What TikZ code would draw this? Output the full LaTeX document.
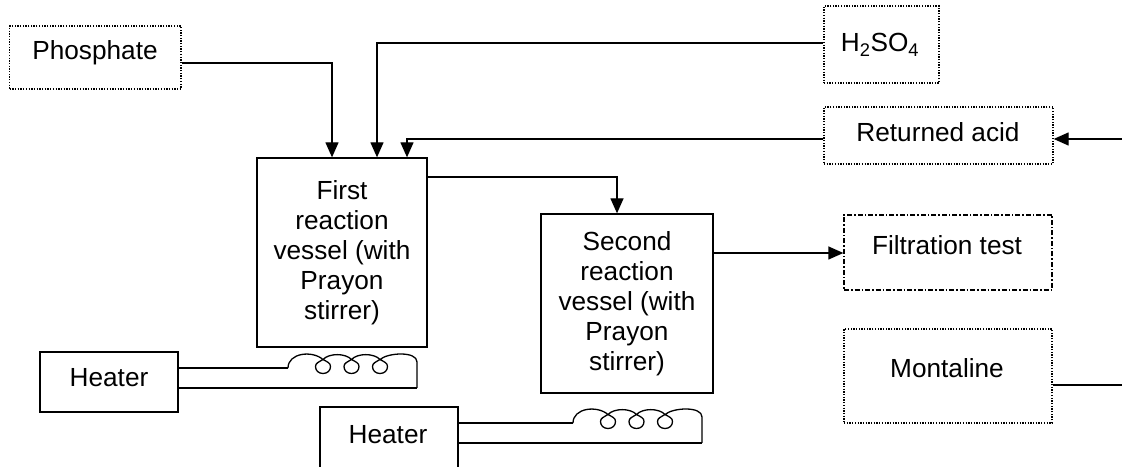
\documentclass[tikz,border=0pt]{standalone}
\usepackage{fontspec}
\setmainfont{Liberation Sans}
\usetikzlibrary{arrows.meta}
\begin{document}
\begin{tikzpicture}[x=1pt,y=1pt,
  every node/.style={font=\fontsize{26.2}{30}\selectfont},
  dotbox/.style={draw, line width=1.3pt, dash pattern=on 1.3pt off 1.4pt, inner sep=0pt},
  dashdotbox/.style={draw, line width=1.3pt, dash pattern=on 5pt off 2pt on 1.5pt off 2pt, inner sep=0pt},
  solidbox/.style={draw, line width=1.3pt, inner sep=0pt},
  vessel/.style={solidbox, align=center},
  lbl/.style={anchor=base, inner sep=0pt},
  conn/.style={line width=1.3pt},
  arr/.style={conn, -{Triangle[length=15pt,width=13pt]}},
  wire/.style={line width=1.3pt},
  coil/.pic={
    \draw[wire] (0,0) .. controls (0,15) and (24,18) .. (35,8.5)
      .. controls (39.5,6) and (42.5,5) .. (42.5,1.5) .. controls (42.5,-2.5) and (39.5,-5.5) .. (35,-5.5)
      .. controls (30.5,-5.5) and (27.5,-2.5) .. (27.5,1.5) .. controls (27.5,5) and (31,6) .. (35,8.5)
      .. controls (41,15) and (57.5,15) .. (63.5,8.5)
      .. controls (68,6) and (71,5) .. (71,1.5) .. controls (71,-2.5) and (68,-5.5) .. (63.5,-5.5)
      .. controls (59,-5.5) and (56,-2.5) .. (56,1.5) .. controls (56,5) and (59.5,6) .. (63.5,8.5)
      .. controls (69.5,15) and (86,15) .. (92,8.5)
      .. controls (96.5,6) and (99.5,5) .. (99.5,1.5) .. controls (99.5,-2.5) and (96.5,-5.5) .. (92,-5.5)
      .. controls (87.5,-5.5) and (84.5,-2.5) .. (84.5,1.5) .. controls (84.5,5) and (88,6) .. (92,8.5)
      .. controls (100,15.5) and (129,17) .. (129,6) -- (129,-20);
    \coordinate (-low) at (129,-20);
  }
]
\useasboundingbox (0,0) rectangle (1122,466);
\clip (0,0) rectangle (1122,466);

% boxes
\node[dotbox, minimum width=171.4, minimum height=63] (phos) at (95.3,408.5) {};
\node[lbl] (phosL) at (95,406) {Phosphate};
\node[dotbox, minimum width=115, minimum height=77] (acid) at (881.5,421.5) {};
\node[lbl] (acidL) at (880,414) {H\textsubscript{2}SO\textsubscript{4}};
\node[dotbox, minimum width=229, minimum height=57] (ret) at (938.5,330.5) {};
\node[lbl] (retL) at (938,324) {Returned acid};
\node[dashdotbox, minimum width=208, minimum height=75] (filt) at (948,213.5) {};
\node[lbl] (filtL) at (947,211) {Filtration test};
\node[dotbox, minimum width=208, minimum height=94] (mont) at (948,90) {};
\node[lbl] (montL) at (947,88) {Montaline};

\node[vessel, minimum width=170, minimum height=189] (v1) at (342,213.5)
  {First\\reaction\\vessel (with\\Prayon\\stirrer)};
\node[vessel, minimum width=172, minimum height=179] (v2) at (627,162.5)
  {Second\\reaction\\vessel (with\\Prayon\\stirrer)};

\node[solidbox, minimum width=138, minimum height=60] (h1) at (109,84) {};
\node[lbl] (h1L) at (109,79) {Heater};
\node[solidbox, minimum width=138, minimum height=89] (h2) at (389,14.5) {};
\node[lbl] (h2L) at (388,23) {Heater};

% free ends at the right edge
\coordinate (rin) at (1122,327);
\coordinate (mout) at (1122,81);

% connectors
\draw[arr] ([yshift=-5.5]phos.east) -| ([xshift=-10]v1.north);
\draw[arr] ([yshift=1.5]acid.west) -| ([xshift=35]v1.north);
\draw[arr] ([yshift=-3.5]ret.west) -| ([xshift=65]v1.north);
\draw[arr] (rin) -- ([yshift=-3.5]ret.east);
\draw[arr] ([yshift=75.5]v1.east) -| ([xshift=-10]v2.north);
\draw[arr] ([yshift=50.5]v2.east) -- ([yshift=-0.5]filt.west);
\draw[conn] ([yshift=-9]mont.east) -- (mout);

% heater 1 wiring and coil
\coordinate (c1) at (288,98);
\draw[wire] (h1.east |- c1) -- (c1);
\pic (k1) at (c1) {coil};
\draw[wire] (k1-low) -- (h1.east |- k1-low);

% heater 2 wiring and coil
\coordinate (c2) at (573,43);
\draw[wire] (h2.east |- c2) -- (c2);
\pic (k2) at (c2) {coil};
\draw[wire] (k2-low) -- (h2.east |- k2-low);
\end{tikzpicture}
\end{document}
